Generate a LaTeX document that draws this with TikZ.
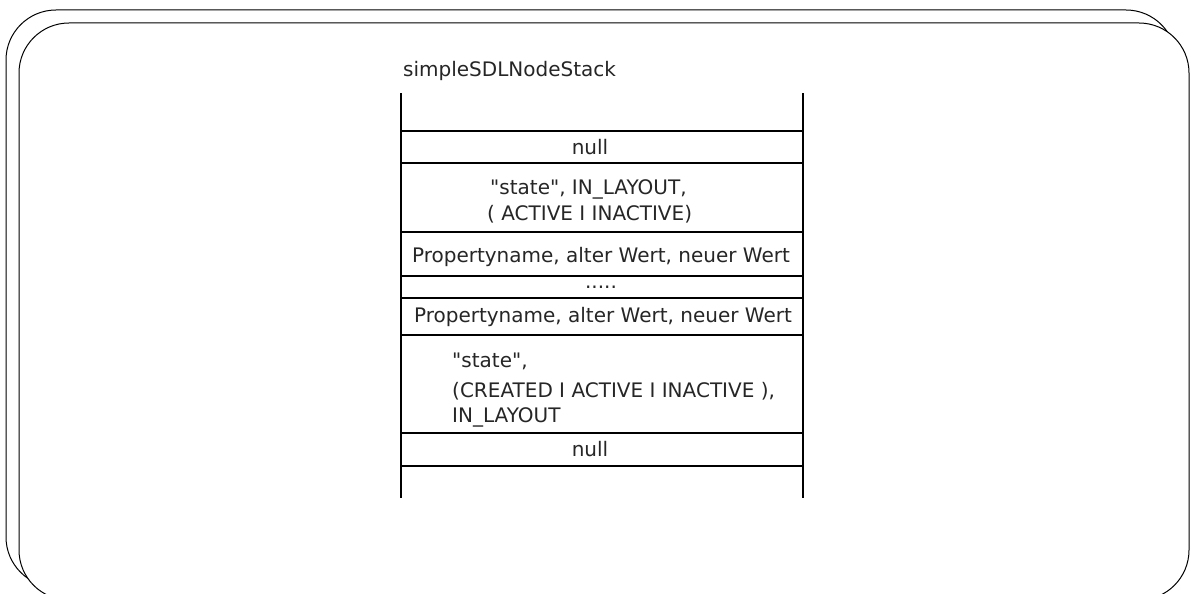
\documentclass[tikz,border=0pt]{standalone}
\usepackage{fontspec}
\newfontfamily\genevafont{DejaVu Sans}
\begin{document}
\begin{tikzpicture}[x=1pt,y=-1pt,
  frame/.style={draw=black, line width=1pt, rounded corners=50pt, fill=white},
  txt/.style={font=\genevafont\fontsize{20}{24}\selectfont, text=black!85, inner sep=0pt},
  cell/.style={draw=black, line width=1.3pt}]
\useasboundingbox (0,0) rectangle (1191,594);
% frames (back and front)
\draw[frame] (6,10) rectangle (1176,587);
\draw[frame] (19,23) rectangle (1189,600);
% stack
\coordinate (tl) at (401,93);
\coordinate (bl) at (401,498);
\coordinate (tr) at (803,93);
\coordinate (br) at (803,498);
\draw[cell] (tl) -- (bl);
\draw[cell] (tr) -- (br);
\foreach \y in {131,163,232,276,298,335,433,466}{
  \draw[cell] (401,\y) -- (803,\y);
}
% texts
\node[txt, anchor=base west] (title) at (403,77) {simpleSDLNodeStack};
\node[txt, anchor=base] (null1) at (590,154) {null};
\node[txt, anchor=base west] (s1a) at (490,194) {"state", IN\_LAYOUT,};
\node[txt, anchor=base west] (s1b) at (487,220) {( ACTIVE I INACTIVE)};
\node[txt, anchor=base] (p1) at (601,262) {Propertyname, alter Wert, neuer Wert};
\node[txt, anchor=base] (dots) at (601,288) {.....};
\node[txt, anchor=base] (p2) at (603,322) {Propertyname, alter Wert, neuer Wert};
\node[txt, anchor=base west] (s2a) at (452,367) {"state",};
\node[txt, anchor=base west] (s2b) at (452,397) {(CREATED I ACTIVE I INACTIVE ),};
\node[txt, anchor=base west] (s2c) at (452,422) {IN\_LAYOUT};
\node[txt, anchor=base] (null2) at (590,456) {null};
\end{tikzpicture}
\end{document}
